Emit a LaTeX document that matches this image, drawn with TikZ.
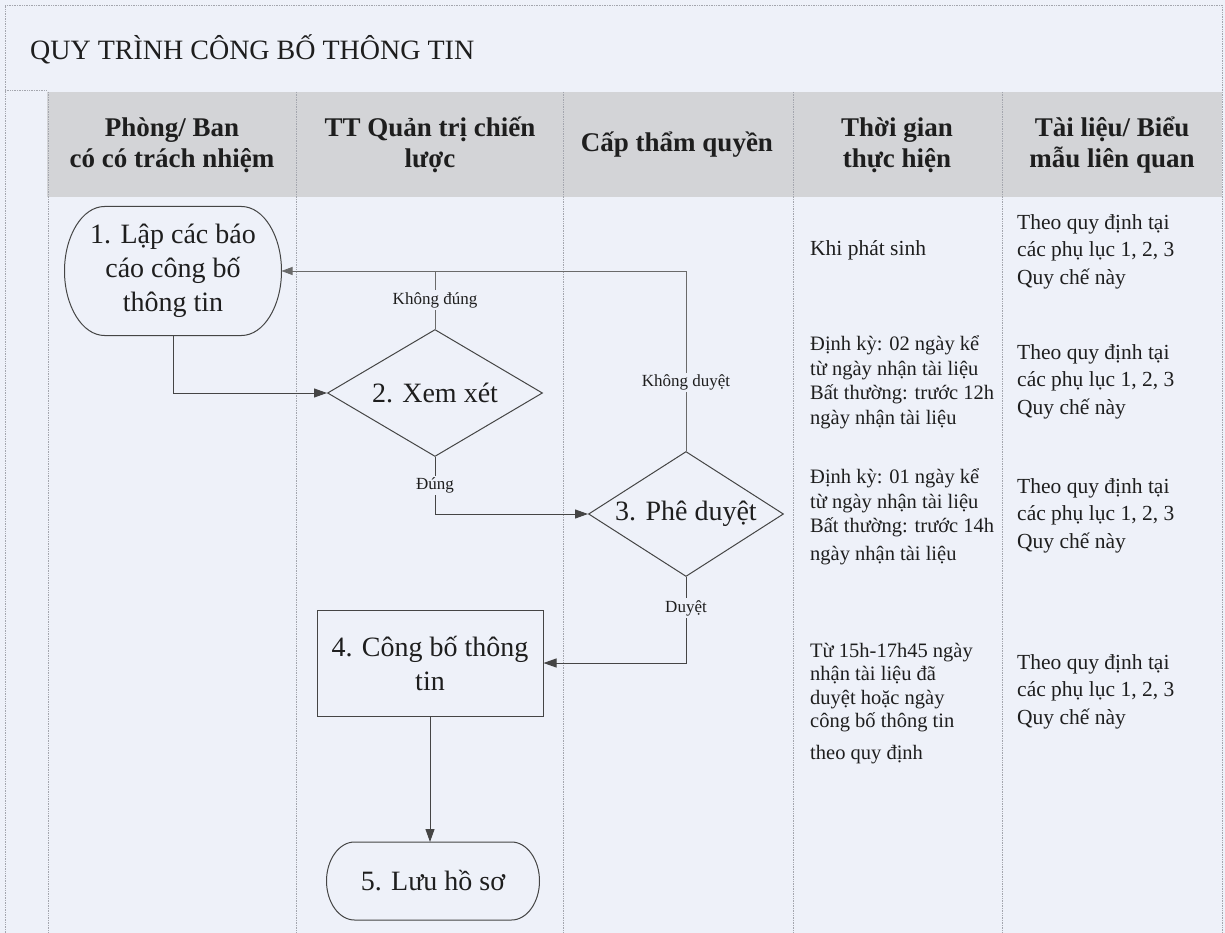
\documentclass[tikz,border=0pt]{standalone}
\usepackage{fontspec}
\setmainfont{Liberation Serif}
\usetikzlibrary{shapes.geometric,arrows.meta}
\definecolor{bgc}{HTML}{EEF1F9}
\definecolor{hdr}{HTML}{D3D4D7}
\definecolor{ln}{HTML}{454545}
\definecolor{bk}{HTML}{6A6A6A}
\definecolor{brd}{HTML}{A4A6AE}
\definecolor{txt}{HTML}{1E1E1E}
\tikzset{
  box/.style={draw=ln, line width=1pt, text=txt, align=center, inner sep=0pt,
    font=\fontsize{28}{34}\selectfont},
  term/.style={box, draw=none},
  outline/.style={draw=ln, line width=1pt},
  dec/.style={box, shape=diamond},
  conn/.style={draw=ln, line width=1pt, -{Triangle[length=13pt,width=9pt]}},
  back/.style={draw=bk, line width=0.8pt},
  lbl/.style={fill=bgc, inner sep=2pt, text=txt, font=\fontsize{17}{20}\selectfont},
  hd/.style={font=\bfseries\fontsize{27}{31}\selectfont, align=center, text=txt, inner sep=0pt},
  tcol/.style={font=\fontsize{20.5}{24.5}\selectfont, align=left, text=txt, inner sep=0pt, anchor=base west},
  dcol/.style={font=\fontsize{21.5}{27.5}\selectfont, align=left, text=txt, inner sep=0pt, anchor=base west},
  lane/.style={draw=brd, line width=0.7pt, densely dotted},
}
% outline of a terminator: flat top and bottom, half-elliptic ends
% #1 = node name, #2 = horizontal radius of the ends, #3 = half height
\newcommand\myoval[3]{%
  \draw[outline]
    ([xshift=#2pt]#1.north west) -- ([xshift=-#2pt]#1.north east)
    .. controls ([xshift={-0.4477*#2pt}]#1.north east) and ([yshift={0.5523*#3pt}]#1.east) .. (#1.east)
    .. controls ([yshift={-0.5523*#3pt}]#1.east) and ([xshift={-0.4477*#2pt}]#1.south east) .. ([xshift=-#2pt]#1.south east)
    -- ([xshift=#2pt]#1.south west)
    .. controls ([xshift={0.4477*#2pt}]#1.south west) and ([yshift={-0.5523*#3pt}]#1.west) .. (#1.west)
    .. controls ([yshift={0.5523*#3pt}]#1.west) and ([xshift={0.4477*#2pt}]#1.north west) .. cycle;
}
\begin{document}
\begin{tikzpicture}[x=1pt,y=-1pt]
\useasboundingbox (0,0) rectangle (1225,933);
\fill[bgc] (0,0) rectangle (1225,933);
\fill[hdr] (47,92) rectangle (1222,197);
% borders
\draw[lane] (5,933) -- (5,5) -- (1222,5) -- (1222,933);
\draw[lane] (5,90) -- (47,90);
\foreach \x in {48,296,563,793,1002} \draw[lane] (\x,92) -- (\x,933);
% title
\node[anchor=base west, inner sep=0pt, text=txt, font=\fontsize{28}{32}\selectfont] (title) at (30,60) {QUY TRÌNH CÔNG BỐ THÔNG TIN};
% header (base anchor = baseline of the last line)
\node[hd, anchor=base] (h1) at (172,168) {Phòng/ Ban\\có có trách nhiệm};
\node[hd, anchor=base] (h2) at (430,168) {TT Quản trị chiến\\lược};
\node[hd, anchor=base] (h3) at (677,152) {Cấp thẩm quyền};
\node[hd, anchor=base] (h4) at (897,168) {Thời gian\\thực hiện};
\node[hd, anchor=base] (h5) at (1112,168) {Tài liệu/ Biểu\\mẫu liên quan};
% flow nodes
\node[term, minimum width=216pt, minimum height=128pt] (n1) at (173,271) {1. Lập các báo\\cáo công bố\\thông tin};
\node[dec, minimum width=215pt, minimum height=127pt, aspect=1.69] (n2) at (435,393) {2. Xem xét};
\node[dec, minimum width=195pt, minimum height=125pt, aspect=1.56] (n3) at (686,514) {3. Phê duyệt};
\node[box, minimum width=226pt, minimum height=106pt] (n4) at (430,663) {4. Công bố thông\\tin};
\node[term, minimum width=212pt, minimum height=77pt] (n5) at (433,881) {5. Lưu hồ sơ};
\myoval{n1}{40}{64}
\myoval{n5}{28}{38.5}
% connectors
\draw[conn] (n1.south) |- (n2.west);
\draw[conn] (n2.south) |- node[lbl, pos=0.25] {Đúng} (n3.west);
\draw[conn] (n3.south) |- node[lbl, pos=0.18] {Duyệt} (n4.east);
\draw[conn] (n4.south) -- (n4.south |- n5.north);
\coordinate (j2) at (n2.north |- n1.east);
\coordinate (j3) at (n3.north |- n1.east);
\draw[back] (n2.north) -- node[lbl, pos=0.5] {Không đúng} (j2);
\draw[back] (n3.north) -- node[lbl, pos=0.38] {Không duyệt} (j3);
\draw[back, -{Triangle[length=11pt,width=8pt]}] (j3) -- (n1.east);
% time column (base anchor = baseline of the last line)
\node[tcol, font=\fontsize{21.5}{25}\selectfont] (t1) at (810,255) {Khi phát sinh};
\node[tcol] (t2) at (810,424) {Định kỳ: 02 ngày kể\\từ ngày nhận tài liệu\\Bất thường: trước 12h\\ngày nhận tài liệu};
\node[tcol] (t3) at (810,560) {Định kỳ: 01 ngày kể\\từ ngày nhận tài liệu\\Bất thường: trước 14h\\[3pt]ngày nhận tài liệu};
\node[tcol, font=\fontsize{20.5}{23.5}\selectfont] (t4) at (810,759) {Từ 15h-17h45 ngày\\nhận tài liệu đã\\duyệt hoặc ngày\\công bố thông tin\\[8pt]theo quy định};
% document column
\node[dcol] (d1) at (1017,284) {Theo quy định tại\\các phụ lục 1, 2, 3\\Quy chế này};
\node[dcol] (d2) at (1017,414) {Theo quy định tại\\các phụ lục 1, 2, 3\\Quy chế này};
\node[dcol] (d3) at (1017,548) {Theo quy định tại\\các phụ lục 1, 2, 3\\Quy chế này};
\node[dcol] (d4) at (1017,724) {Theo quy định tại\\các phụ lục 1, 2, 3\\Quy chế này};
\end{tikzpicture}
\end{document}
